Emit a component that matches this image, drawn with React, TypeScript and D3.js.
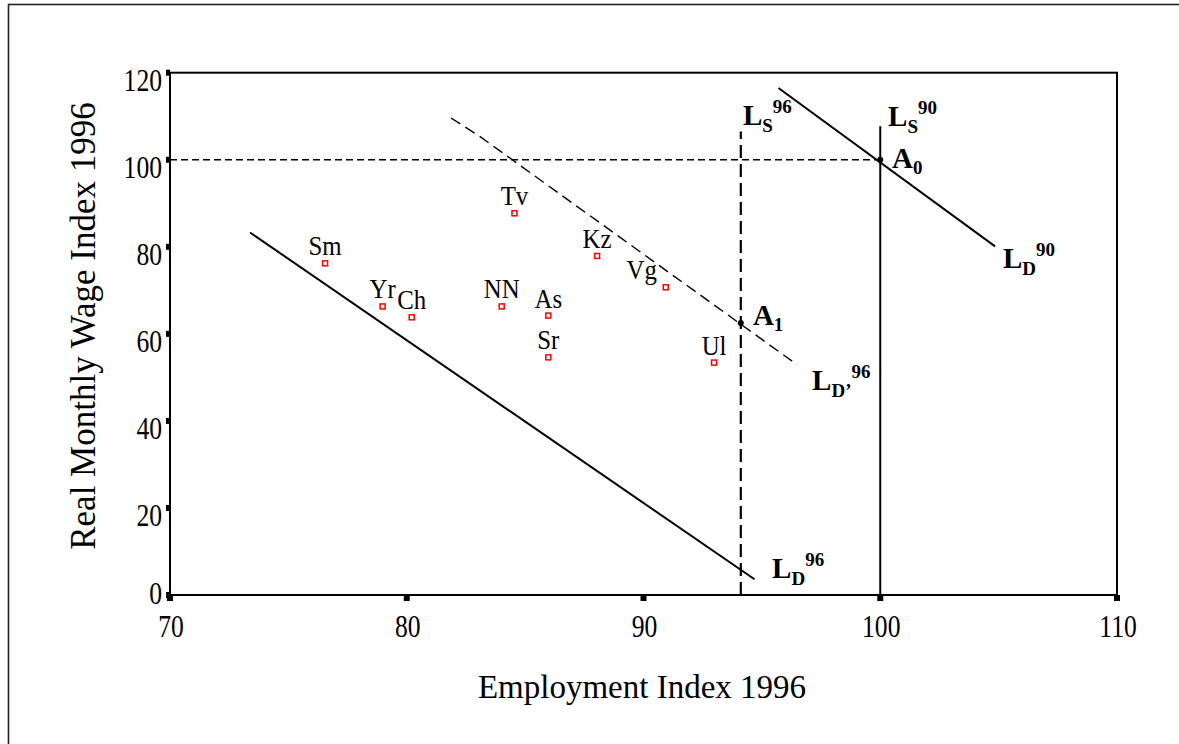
import React from "react";
import * as d3 from "d3";

const regions = ["Sm", "Yr", "Ch", "NN", "As", "Sr", "Tv", "Kz", "Vg", "Ul"];
const employment = [76.55, 78.98, 80.21, 84.01, 85.98, 85.98, 84.55, 88.04, 90.94, 92.98];
const wage = [76.2, 66.3, 63.8, 66.3, 64.2, 54.6, 87.7, 77.9, 70.7, 53.4];
const labelShift = [0, 0, 0, 0, 0, 0, 0, 0, -24, 0];

const xTicks = [70, 80, 90, 100, 110];
const yTicks = [0, 20, 40, 60, 80, 100, 120];

const demand96: [number, number][] = [[73.38, 83.29], [94.69, 3.61]];
const demandPrime96: [number, number][] = [[81.87, 109.6], [83.1, 105.3], [96.49, 52.9]];
const demand90: [number, number][] = [[95.7, 116.48], [104.85, 80.1]];
const supply90: [number, number][] = [[100, 0], [100, 107.7]];
const supply96: [number, number][] = [[94.11, 0], [94.11, 106.5]];
const wage100: [number, number][] = [[70, 100], [100, 100]];
const equilibria: { name: string; sub: string; x: number; y: number; lx: number; ly: number }[] = [
  { name: "A", sub: "0", x: 100, y: 100, lx: 100.5, ly: 98.0 },
  { name: "A", sub: "1", x: 94.11, y: 62.5, lx: 94.62, ly: 62.0 },
];
const curveLabels: { main: string; sub: string; sup: string; x: number; y: number }[] = [
  { main: "L", sub: "S", sup: "96", x: 94.2, y: 108.0 },
  { main: "L", sub: "S", sup: "90", x: 100.33, y: 107.8 },
  { main: "L", sub: "D", sup: "90", x: 105.18, y: 75.1 },
  { main: "L", sub: "D\u2019", sup: "96", x: 97.12, y: 47.1 },
  { main: "L", sub: "D", sup: "96", x: 95.43, y: 3.9 },
];

const FONT = "'Liberation Serif', 'Times New Roman', serif";

function Cond({ x, y, sx, size, anchor, children }: any) {
  return (
    <text
      transform={`translate(${x},${y}) scale(${sx},1)`}
      textAnchor={anchor}
      fontSize={size}
      fill="#000"
    >
      {children}
    </text>
  );
}

export default function App() {
  const x = d3.scaleLinear().domain([70, 110]).range([170, 1117]);
  const y = d3.scaleLinear().domain([0, 120]).range([595, 72.7]);
  const line = d3
    .line<[number, number]>()
    .x((d) => x(d[0]))
    .y((d) => y(d[1]));

  return (
    <svg
      width={1179}
      height={744}
      style={{ position: "absolute", left: 0, top: 0, background: "#fff" }}
      fontFamily={FONT}
    >
      <rect x={0} y={0} width={1179} height={744} fill="#fff" />
      {/* outer frame */}
      <rect x={8.5} y={4.5} width={1200} height={800} fill="none" stroke="#222" strokeWidth={1.6} />

      {/* plot frame */}
      <rect x={x(70)} y={y(120)} width={x(110) - x(70)} height={y(0) - y(120)} fill="none" stroke="#000" strokeWidth={2} />

      {/* y ticks */}
      {yTicks.map((t) => (
        <g key={"y" + t}>
          <rect x={x(70) - 4} y={y(t) - 3} width={4} height={6} fill="#000" />
          <Cond x={162} y={y(t) + (t === 0 ? 8.5 : 18)} sx={0.8} size={32} anchor="end">
            {t}
          </Cond>
        </g>
      ))}
      {/* x ticks */}
      {xTicks.map((t) => (
        <g key={"x" + t}>
          <rect x={x(t) - 3} y={y(0)} width={6} height={6} fill="#000" />
          <Cond x={x(t) + 1} y={637} sx={0.8} size={32} anchor="middle">
            {t}
          </Cond>
        </g>
      ))}

      {/* axis titles */}
      <text x={642} y={698} textAnchor="middle" fontSize={33} fill="#000">
        Employment Index 1996
      </text>
      <text
        transform={`translate(95,326) rotate(-90)`}
        textAnchor="middle"
        fontSize={35}
        fill="#000"
      >
        Real Monthly Wage Index 1996
      </text>

      {/* lines */}
      <path d={line(wage100) || ""} fill="none" stroke="#000" strokeWidth={1.5} strokeDasharray="7,4" />
      <path d={line(supply96) || ""} fill="none" stroke="#000" strokeWidth={2.2} strokeDasharray="13,6" />
      <path d={line(supply90) || ""} fill="none" stroke="#000" strokeWidth={2} />
      <path d={line(demand90) || ""} fill="none" stroke="#000" strokeWidth={2} />
      <path d={line(demand96) || ""} fill="none" stroke="#000" strokeWidth={2} />
      <path d={line(demandPrime96) || ""} fill="none" stroke="#000" strokeWidth={1.4} strokeDasharray="11,6" />

      {/* region points */}
      {regions.map((r, i) => (
        <g key={r}>
          <rect
            x={x(employment[i]) - 2.5}
            y={y(wage[i]) - 2.5}
            width={5}
            height={5}
            fill="#fff"
            stroke="#f00"
            strokeWidth={1.5}
          />
          <Cond x={x(employment[i]) + labelShift[i]} y={y(wage[i]) - 8} sx={0.92} size={27} anchor="middle">
            {r}
          </Cond>
        </g>
      ))}

      {/* equilibria */}
      {equilibria.map((e) => (
        <g key={e.name + e.sub}>
          <circle cx={x(e.x)} cy={y(e.y)} r={3} fill="#000" />
          <text x={x(e.lx)} y={y(e.ly)} fontSize={29} fontWeight="bold" fill="#000">
            {e.name}
            <tspan fontSize={19} dy={6}>
              {e.sub}
            </tspan>
          </text>
        </g>
      ))}

      {/* curve labels */}
      {curveLabels.map((c, i) => (
        <text key={i} x={x(c.x)} y={y(c.y)} fontSize={29} fontWeight="bold" fill="#000">
          {c.main}
          <tspan fontSize={19} dy={7}>
            {c.sub}
          </tspan>
          <tspan fontSize={19} dy={-19}>
            {c.sup}
          </tspan>
        </text>
      ))}
    </svg>
  );
}
